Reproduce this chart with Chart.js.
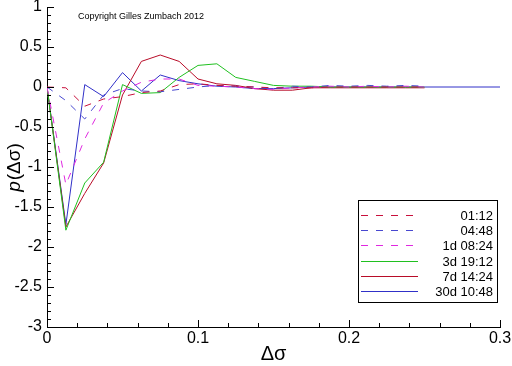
<!DOCTYPE html>
<html>
<head>
<meta charset="utf-8">
<script src="https://cdn.jsdelivr.net/npm/chart.js@4/dist/chart.umd.min.js"></script>
<style>
  html, body { margin: 0; padding: 0; background: #fff; }
  #wrap { width: 512px; height: 366px; }
</style>
</head>
<body>
<div id="wrap"><canvas id="chart" width="512" height="366"></canvas></div>
<script>
// x positions (delta sigma) shared by all series
const dSigma = [0, 0.0125, 0.025, 0.0375, 0.05, 0.0625, 0.075, 0.0875, 0.1, 0.1125,
  0.125, 0.1375, 0.15, 0.1625, 0.175, 0.1875, 0.2, 0.2125, 0.225, 0.2375, 0.25];

const lag0112 = [0, -0.01, -0.24, -0.15, -0.12, -0.07, -0.05, 0.03, 0.04, 0.02,
  0.01, 0, -0.01, -0.01, -0.01, 0, 0, 0, 0, 0, 0];
const lag0448 = [0, -0.17, -0.4, -0.1, -0.02, -0.05, -0.06, -0.03, 0, 0.02,
  0.01, 0, -0.02, 0.01, 0, 0.02, 0.01, 0.02, 0.01, 0.02, 0.01];
const lag1d0824 = [0, -1.22, -0.65, -0.2, -0.05, 0.06, 0.1, 0.1, 0.02, 0.01,
  0, -0.02, -0.03, -0.01, 0, 0.01, 0, 0.01, 0, 0.01, 0];
const lag3d1912 = [0, -1.79, -1.2, -0.94, 0.03, -0.08, -0.07, 0.12, 0.27, 0.29,
  0.12, 0.07, 0.02, 0.01, 0.01, 0, 0, 0, 0, 0, 0];
const lag7d1424 = [0, -1.75, -1.33, -0.95, -0.1, 0.32, 0.4, 0.32, 0.1, 0.04,
  0.02, -0.02, -0.04, -0.04, -0.01, -0.01, -0.01, -0.01, -0.01, -0.01, -0.01];
const lag30d1048 = [0, -1.72, 0.03, -0.12, 0.18, -0.05, 0.15, 0.08, 0.04, 0.01,
  0, -0.02, -0.02, -0.01, 0, 0, 0, 0, 0, 0, 0];
// the 30d curve is carried on along zero up to the end of the axis
const lag30dTail = [[0.3, 0]];

const labels = ['01:12', '04:48', '1d 08:24', '3d 19:12', '7d 14:24', '30d 10:48'];
const colors = ['#c8103c', '#4848d0', '#e028e0', '#20c020', '#b80c28', '#3030c8'];
const dashed = [true, true, true, false, false, false];

const xTicks = [0, 0.1, 0.2, 0.3];
const yTicks = [1, 0.5, 0, -0.5, -1, -1.5, -2, -2.5, -3];

const series = [lag0112, lag0448, lag1d0824, lag3d1912, lag7d1424, lag30d1048];
const FONT = "'Liberation Sans', Arial, sans-serif";
const NARROW = "'Liberation Sans Narrow', 'Liberation Sans', Arial, sans-serif";

function toPoints(values) {
  return values.map((v, i) => ({ x: dSigma[i], y: v }));
}

const datasets = series.map((s, i) => {
  const pts = toPoints(s);
  if (i === 5) lag30dTail.forEach(p => pts.push({ x: p[0], y: p[1] }));
  return {
    label: labels[i],
    data: pts,
    borderColor: colors[i],
    backgroundColor: colors[i],
    borderWidth: 1,
    borderDash: dashed[i] ? [7, 8] : [],
    pointRadius: 0,
    tension: 0,
    fill: false,
  };
});

// inward tick marks, drawn through the scales
const tickMarks = {
  id: 'tickMarks',
  afterDraw(chart) {
    const { ctx, chartArea, scales: { x, y } } = chart;
    ctx.save();
    ctx.strokeStyle = '#000';
    ctx.lineWidth = 1;
    ctx.beginPath();
    for (let k = 0; k <= 15; k++) {
      const px = Math.round(x.getPixelForValue(k * 0.02)) + 0.5;
      const len = k % 5 === 0 ? 7 : 4;
      ctx.moveTo(px, chartArea.bottom);
      ctx.lineTo(px, chartArea.bottom - len);
    }
    for (let k = 0; k <= 40; k++) {
      const py = Math.round(y.getPixelForValue(1 - k * 0.1)) + 0.5;
      const len = k % 5 === 0 ? 7 : 4;
      ctx.moveTo(chartArea.left, py);
      ctx.lineTo(chartArea.left + len, py);
    }
    ctx.stroke();
    ctx.restore();
  }
};

// copyright note, y title with italic p, and boxed legend
const decorations = {
  id: 'decorations',
  afterDraw(chart) {
    const ctx = chart.ctx;
    ctx.save();
    ctx.fillStyle = '#000';
    ctx.textBaseline = 'alphabetic';
    ctx.font = '9px ' + FONT;
    ctx.fillText('Copyright Gilles Zumbach 2012', 78, 19);

    // y axis title
    ctx.translate(20, 168);
    ctx.rotate(-Math.PI / 2);
    ctx.font = 'italic 19px ' + FONT;
    const pW = ctx.measureText('p').width;
    ctx.font = '19px ' + FONT;
    const restW = ctx.measureText('(Δσ)').width;
    const start = -(pW + restW) / 2;
    ctx.font = 'italic 19px ' + FONT;
    ctx.fillText('p', start, 0);
    ctx.font = '19px ' + FONT;
    ctx.fillText('(Δσ)', start + pW + 1, 0);
    ctx.restore();

    // legend
    ctx.save();
    ctx.lineWidth = 1;
    ctx.fillStyle = '#fff';
    ctx.fillRect(358, 200, 140, 102);
    ctx.strokeStyle = '#000';
    ctx.strokeRect(358.5, 200.5, 139, 102);
    ctx.font = '13px ' + FONT;
    ctx.textAlign = 'right';
    ctx.textBaseline = 'middle';
    chart.data.datasets.forEach((ds, i) => {
      const rowY = Math.round(215 + i * 15.2) + 0.5;
      ctx.strokeStyle = ds.borderColor;
      ctx.setLineDash(ds.borderDash);
      ctx.beginPath();
      ctx.moveTo(361, rowY);
      ctx.lineTo(418, rowY);
      ctx.stroke();
      ctx.setLineDash([]);
      ctx.fillStyle = '#000';
      ctx.fillText(ds.label, 493, rowY + 1);
    });
    ctx.restore();
  }
};

new Chart(document.getElementById('chart'), {
  type: 'line',
  data: { datasets },
  options: {
    responsive: false,
    animation: false,
    layout: { padding: { top: 7, right: 12, left: 0, bottom: 0 } },
    plugins: {
      legend: { display: false },
      tooltip: { enabled: false },
    },
    scales: {
      x: {
        type: 'linear',
        min: 0,
        max: 0.3,
        afterBuildTicks: (scale) => { scale.ticks = xTicks.map(v => ({ value: v })); },
        afterFit: (scale) => {
          scale.height = 39;
          scale.paddingLeft = 0;
          scale.paddingRight = 0;
        },
        grid: { display: false, drawTicks: false },
        border: { display: true, color: '#000', width: 1 },
        ticks: {
          color: '#000',
          padding: 2,
          maxRotation: 0,
          font: { family: NARROW, size: 16 },
          callback: (v) => String(Math.round(v * 10) / 10),
        },
        title: {
          display: true,
          text: 'Δσ',
          color: '#000',
          padding: { top: 0, bottom: 0 },
          font: { family: FONT, size: 20 },
        },
      },
      y: {
        type: 'linear',
        min: -3,
        max: 1,
        afterBuildTicks: (scale) => { scale.ticks = yTicks.map(v => ({ value: v })); },
        afterFit: (scale) => {
          scale.width = 47;
          scale.paddingTop = 0;
          scale.paddingBottom = 0;
        },
        grid: { display: false, drawTicks: false },
        border: { display: true, color: '#000', width: 1 },
        ticks: {
          color: '#000',
          padding: 5,
          font: { family: NARROW, size: 16 },
          callback: (v) => String(Math.round(v * 10) / 10),
        },
      },
    },
  },
  plugins: [tickMarks, decorations],
});
</script>
</body>
</html>
